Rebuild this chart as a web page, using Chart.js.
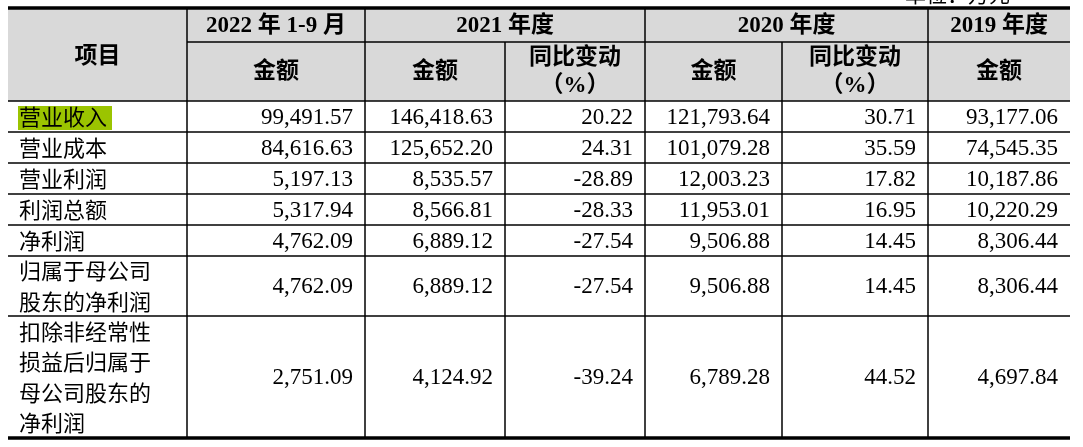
<!DOCTYPE html>
<html><head><meta charset="utf-8">
<script src="https://cdn.jsdelivr.net/npm/chart.js@4"></script>
<style>html,body{margin:0;padding:0;background:#fff}#w{width:1083px;height:447px}</style>
</head><body><div id="w"><canvas id="c"></canvas></div>
<script>
const rowLabels = [["营业收入"],["营业成本"],["营业利润"],["利润总额"],["净利润"],["归属于母公司","股东的净利润"],["扣除非经常性","损益后归属于","母公司股东的","净利润"]];
const amount2022 = ["99,491.57","84,616.63","5,197.13","5,317.94","4,762.09","4,762.09","2,751.09"];
const amount2021 = ["146,418.63","125,652.20","8,535.57","8,566.81","6,889.12","6,889.12","4,124.92"];
const change2021 = ["20.22","24.31","-28.89","-28.33","-27.54","-27.54","-39.24"];
const amount2020 = ["121,793.64","101,079.28","12,003.23","11,953.01","9,506.88","9,506.88","6,789.28"];
const change2020 = ["30.71","35.59","17.82","16.95","14.45","14.45","44.52"];
const amount2019 = ["93,177.06","74,545.35","10,187.86","10,220.29","8,306.44","8,306.44","4,697.84"];
const periodHeaders = ["2022 年 1-9 月","2021 年度","2020 年度","2019 年度"];
const subHeaders = [["金额"],["金额"],["同比变动","（%）"],["金额"],["同比变动","（%）"],["金额"]];
const itemHeader = "项目";
const unitNote = "单位：万元";

const columns = [amount2022, amount2021, change2021, amount2020, change2020, amount2019];
const CX = [8,187,365,505,645,782,928,1070];
const RY = [8,42,101,132,163,194,225,256,316,438];
const CJK = '"Noto Sans CJK SC"';
const SERIF = '"Liberation Serif"';

const tablePlugin = {
  id:'table',
  afterDraw(chart){
    const ctx = chart.ctx, xs = chart.scales.x, ys = chart.scales.y;
    const X = v => xs.getPixelForValue(v), Y = v => ys.getPixelForValue(v);
    ctx.save();
    ctx.fillStyle = '#d9d9d9';
    ctx.fillRect(X(CX[0]), Y(RY[0]), X(CX[7])-X(CX[0]), Y(RY[2])-Y(RY[0]));
    ctx.fillStyle = '#9bc400';
    ctx.fillRect(X(18), Y(106), X(112)-X(18), Y(130)-Y(106));
    ctx.strokeStyle = '#000';
    const hl = (y,x0,x1,w)=>{ctx.lineWidth=w;ctx.beginPath();ctx.moveTo(X(x0),Y(y));ctx.lineTo(X(x1),Y(y));ctx.stroke();};
    const vl = (x,y0,y1,w)=>{ctx.lineWidth=w;ctx.beginPath();ctx.moveTo(X(x),Y(y0));ctx.lineTo(X(x),Y(y1));ctx.stroke();};
    hl(RY[0],CX[0],CX[7],3.5);
    hl(RY[1],CX[1],CX[7],1.5);
    for(let i=2;i<RY.length-1;i++) hl(RY[i],CX[0],CX[7],1.5);
    hl(RY[9],CX[0],CX[7],3.5);
    vl(CX[1],RY[0],RY[9],1.5);
    vl(CX[2],RY[0],RY[9],1.5);
    vl(CX[3],RY[1],RY[9],1.5);
    vl(CX[4],RY[0],RY[9],1.5);
    vl(CX[5],RY[1],RY[9],1.5);
    vl(CX[6],RY[0],RY[9],1.5);
    ctx.fillStyle = '#000';
    ctx.textBaseline = 'middle';
    ctx.font = '21px '+CJK; ctx.textAlign='right';
    ctx.fillText(unitNote, X(1010), Y(-6));
    ctx.textAlign='center';
    ctx.font = 'bold 23px '+SERIF+','+CJK;
    ctx.fillText(itemHeader, X((CX[0]+CX[1])/2), Y(57));
    const spans = [[1,2],[2,4],[4,6],[6,7]];
    spans.forEach((s,i)=>ctx.fillText(periodHeaders[i], X((CX[s[0]]+CX[s[1]])/2), Y((RY[0]+RY[1])/2+1)));
    subHeaders.forEach((h,i)=>{
      const cx = X((CX[i+1]+CX[i+2])/2);
      if(h.length===1) ctx.fillText(h[0], cx, Y(72));
      else { ctx.fillText(h[0], cx, Y(58)); ctx.fillText(h[1], cx, Y(86)); }
    });
    for(let r=0;r<rowLabels.length;r++){
      const yc = (RY[r+2]+RY[r+3])/2;
      const lines = rowLabels[r];
      ctx.textAlign='left'; ctx.font='22px '+CJK;
      lines.forEach((t,k)=>ctx.fillText(t, X(19), Y(yc+(k-(lines.length-1)/2)*30.5)));
      ctx.textAlign='right'; ctx.font='23px '+SERIF;
      columns.forEach((col,c)=>ctx.fillText(col[r], X(CX[c+2]-12), Y(yc+1)));
    }
    ctx.restore();
  }
};

new Chart(document.getElementById('c'),{
  type:'scatter',
  data:{datasets:[{data:[]}]},
  options:{
    responsive:true, maintainAspectRatio:false, animation:false,
    layout:{padding:0},
    plugins:{legend:{display:false},tooltip:{enabled:false}},
    scales:{
      x:{type:'linear',min:0,max:1083,display:false},
      y:{type:'linear',min:0,max:447,reverse:true,display:false}
    }
  },
  plugins:[tablePlugin]
});
</script></body></html>
